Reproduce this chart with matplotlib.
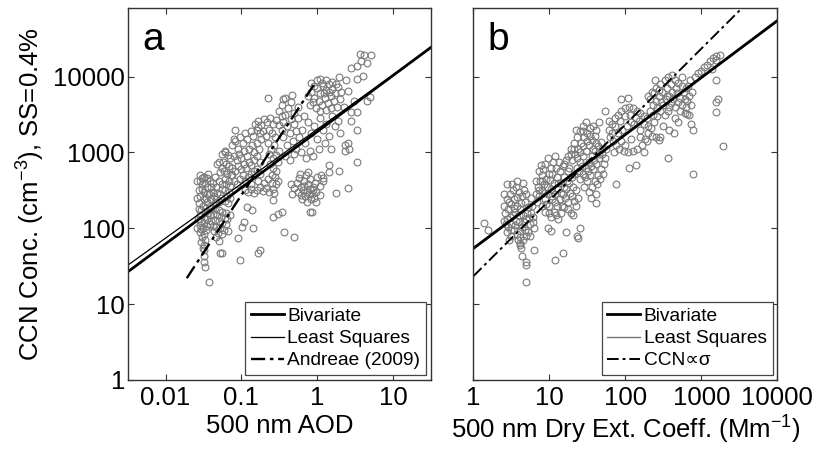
import numpy as np
import matplotlib
matplotlib.use("Agg")
import matplotlib.pyplot as plt
from matplotlib.ticker import NullLocator, FixedLocator, FixedFormatter
from matplotlib.lines import Line2D

plt.rcParams['font.family'] = ['Liberation Sans', 'DejaVu Sans']
plt.rcParams['mathtext.fontset'] = 'custom'
plt.rcParams['mathtext.rm'] = 'Liberation Sans'
plt.rcParams['mathtext.default'] = 'regular'

# ---------------- data (log10 of values) ----------------
# Panel a: log10(AOD), log10(CCN)
a_column = [(-1.55,2.62),(-1.52,2.58),(-1.48,2.60),(-1.45,2.55),(-1.56,2.50),(-1.50,2.48),(-1.46,2.45),
            (-1.54,2.42),(-1.49,2.38),(-1.45,2.35),(-1.56,2.33),(-1.51,2.30),(-1.47,2.27),(-1.53,2.24),
            (-1.48,2.21),(-1.55,2.18),(-1.50,2.15),(-1.46,2.12),(-1.53,2.10),(-1.49,2.07),(-1.55,2.04),
            (-1.51,2.01),(-1.47,1.98),(-1.54,1.95),(-1.50,1.92),(-1.52,1.88),(-1.48,1.85),(-1.53,1.82),
            (-1.50,1.78),(-1.51,1.74),(-1.49,1.71),(-1.47,2.40),(-1.52,2.52),(-1.44,2.20),(-1.56,2.26),
            (-1.46,2.03),(-1.53,1.99),(-1.57,2.12),(-1.50,1.64),(-1.49,1.56),(-1.48,1.49),(-1.43,1.29),
            (-1.58,2.40),(-1.52,2.66)]
a_blob = [(-1.40,2.25),(-1.35,2.27),(-1.30,2.24),(-1.25,2.22),(-1.20,2.20),(-1.42,2.18),(-1.37,2.19),
          (-1.32,2.17),(-1.27,2.15),(-1.22,2.14),(-1.40,2.10),(-1.35,2.11),(-1.30,2.09),(-1.25,2.07),
          (-1.20,2.05),(-1.38,2.03),(-1.33,2.02),(-1.28,2.00),(-1.23,1.98),(-1.36,1.96),(-1.31,1.94),
          (-1.26,1.93),(-1.42,2.05),(-1.19,2.12),(-1.34,1.89)]
a_band = [(-1.58,2.62),(-1.55,2.70),(-1.50,2.68),(-1.45,2.66),(-1.42,2.62),(-1.40,2.55),(-1.38,2.48),
          (-1.36,2.42),(-1.33,2.38),(-1.30,2.35),(-1.28,2.45),(-1.25,2.52),(-1.43,2.45),(-1.40,2.38),
          (-1.35,2.33),(-1.27,2.40),(-1.22,2.36),(-1.19,2.42),(-1.17,2.48),(-1.44,2.72),(-1.38,2.60),
          (-1.33,2.55),(-1.30,2.62),(-1.26,2.58),(-1.22,2.50),(-1.35,2.68),(-1.42,2.30),(-1.18,2.33),
          (-1.15,2.40),(-1.32,2.47)]
a_tallcol = [(-1.25,2.98),(-1.22,3.02),(-1.18,2.96),(-1.15,2.92),(-1.24,2.88),(-1.20,2.85),(-1.16,2.82),
             (-1.23,2.76),(-1.19,2.72),(-1.14,2.70),(-1.22,2.65),(-1.17,2.62),(-1.21,2.58),(-1.15,2.56),
             (-1.26,2.80)]
a_mid = [(-1.12,3.10),(-1.08,3.15),(-1.05,3.05),(-1.02,3.20),(-0.98,3.12),(-0.95,3.25),(-0.92,3.18),
         (-0.88,3.28),(-0.85,3.22),(-0.80,3.30),(-0.76,3.25),(-0.74,3.18),(-1.10,2.95),(-1.06,2.90),
         (-1.03,2.98),(-1.00,2.92),(-0.96,3.02),(-0.93,2.95),(-0.90,3.05),(-0.86,3.10),(-0.83,3.00),
         (-0.80,3.12),(-0.77,3.05),(-1.12,2.80),(-1.08,2.75),(-1.04,2.82),(-1.00,2.78),(-0.97,2.85),
         (-0.94,2.80),(-0.90,2.88),(-0.87,2.83),(-0.84,2.90),(-0.80,2.95),(-0.76,2.88),(-1.10,2.62),
         (-1.06,2.58),(-1.02,2.65),(-0.98,2.70),(-0.95,2.62),(-0.91,2.68),(-0.88,2.72),(-0.84,2.75),
         (-0.80,2.78),(-0.75,2.72),(-1.13,2.70)]
a_hband = [(-0.95,2.50),(-0.91,2.48),(-0.87,2.52),(-0.83,2.47),(-0.79,2.50),(-0.75,2.55),(-0.71,2.49),
           (-0.67,2.53),(-0.63,2.48),(-0.59,2.52),(-0.55,2.58),(-0.52,2.62),(-0.70,2.60),(-0.65,2.65),
           (-0.60,2.60),(-0.88,2.58),(-0.78,2.62),(-0.57,2.46)]
a_upper = [(-0.82,3.38),(-0.78,3.42),(-0.74,3.36),(-0.70,3.44),(-0.66,3.40),(-0.62,3.46),(-0.58,3.38),
           (-0.54,3.43),(-0.50,3.36),(-0.47,3.30),(-0.72,3.28),(-0.68,3.22),(-0.64,3.30),(-0.60,3.25),
           (-0.56,3.20),(-0.65,3.12),(-0.61,3.05),(-0.57,3.10),(-0.63,2.98),(-0.59,2.92),(-0.55,2.96),
           (-0.62,2.85),(-0.58,2.80),(-0.54,2.75),(-0.60,2.70),(-0.56,2.68),(-0.52,2.88),(-0.50,3.02)]
a_leftup = [(-0.50,3.55),(-0.46,3.62),(-0.42,3.50),(-0.38,3.58),(-0.34,3.66),(-0.30,3.52),(-0.26,3.60),
            (-0.45,3.40),(-0.40,3.35),(-0.35,3.44),(-0.30,3.38),(-0.25,3.46),(-0.42,3.72),(-0.33,3.76),
            (-0.28,3.28),(-0.47,3.48)]
a_topclus = [(-0.12,3.75),(-0.08,3.80),(-0.04,3.72),(0.00,3.85),(0.04,3.78),(0.08,3.88),(0.12,3.82),
             (0.16,3.90),(0.20,3.84),(0.24,3.78),(0.28,3.86),(0.31,3.80),(-0.10,3.62),(-0.06,3.66),
             (-0.02,3.58),(0.02,3.68),(0.06,3.62),(0.10,3.72),(0.14,3.65),(0.18,3.74),(0.22,3.68),
             (0.26,3.60),(0.30,3.70),(-0.08,3.92),(0.00,3.95),(0.06,3.92),(0.12,3.96),(0.20,3.93),
             (0.25,3.90),(0.03,3.55),(0.12,3.56),(0.18,3.58),(-0.04,3.88),(0.09,3.78),(0.15,3.80)]
a_midright = [(-0.45,3.20),(-0.40,3.10),(-0.36,3.25),(-0.32,3.15),(-0.28,3.05),(-0.24,3.20),(-0.20,3.30),
              (-0.16,3.12),(-0.12,3.40),(-0.08,3.25),(-0.04,3.35),(0.00,3.18),(0.04,3.45),(0.08,3.30),
              (0.12,3.38),(0.16,3.22),(0.20,3.48),(0.24,3.35),(0.28,3.42),(-0.42,2.95),(-0.36,2.90),
              (-0.30,2.98),(-0.22,3.00),(-0.15,2.92),(-0.10,3.02),(-0.05,2.95),(0.02,3.05),(0.10,3.12),
              (0.18,3.05),(-0.18,3.48)]
a_lowright = [(-0.27,2.60),(-0.24,2.66),(-0.21,2.55),(-0.18,2.62),(-0.15,2.70),(-0.12,2.58),(-0.09,2.65),
              (-0.06,2.54),(-0.03,2.60),(0.00,2.68),(0.04,2.56),(0.07,2.62),(-0.25,2.48),(-0.22,2.44),
              (-0.19,2.50),(-0.16,2.42),(-0.13,2.48),(-0.10,2.52),(-0.07,2.45),(-0.04,2.40),(-0.01,2.48),
              (0.03,2.44),(-0.20,2.38),(-0.14,2.35),(-0.08,2.38),(-0.02,2.35),(-0.17,2.56),(-0.11,2.45),
              (-0.05,2.50),(-0.23,2.72),(-0.12,2.74),(0.05,2.70),(-0.30,2.53),(-0.35,2.58),(-0.33,2.45)]
a_right = [(0.03,3.97),(0.29,4.00),(0.38,3.95),(0.40,3.81),(0.49,3.68),(0.66,3.68),(0.69,3.73),(0.45,3.53),
           (0.53,3.53),(0.53,3.29),(0.52,2.87),(0.40,3.13),(0.36,3.10),(0.42,3.05),(0.36,3.02),(0.29,2.76),
           (0.40,2.53),(0.25,2.47),(0.16,2.83),(0.16,2.74),(0.07,2.66),(-0.07,2.21),(-0.47,2.21),(-0.10,2.21),
           (0.35,3.60),(0.45,3.42),(0.30,3.25),(0.56,4.30),(0.62,4.28),(0.71,4.28),(0.58,4.21),(0.65,4.18),
           (0.45,4.11),(0.53,4.14),(0.60,4.01),(0.52,3.97)]
a_misc = [(-1.09,3.29),(-1.10,3.18),(-1.32,2.85),(-1.28,2.74),(-0.93,2.28),(-0.86,2.24),(-0.59,2.37),
          (-0.59,2.15),(-0.52,2.19),(-0.96,2.08),(-0.99,2.02),(-1.15,2.17),(-1.18,1.97),(-1.05,1.87),
          (-1.30,1.83),(-1.26,1.67),(-1.02,1.58),(-0.78,1.68),(-0.44,1.95),(-0.31,1.89),(-1.59,2.01),
          (-0.65,3.72),(-0.45,3.71),(-0.78,3.33),(-1.22,3.00),(-1.30,2.88),(-0.85,2.01),(-0.76,1.71),
          (-1.28,1.67)]

# Panel b: log10(extinction, Mm-1), log10(CCN)
b_c1 = [(0.40,2.30),(0.44,2.38),(0.48,2.45),(0.52,2.50),(0.56,2.55),(0.60,2.48),(0.64,2.42),(0.68,2.35),
        (0.72,2.28),(0.76,2.20),(0.42,2.20),(0.46,2.25),(0.50,2.32),(0.54,2.38),(0.58,2.30),(0.62,2.25),
        (0.66,2.18),(0.70,2.12),(0.74,2.05),(0.78,2.15),(0.40,2.10),(0.44,2.12),(0.48,2.15),(0.52,2.18),
        (0.56,2.10),(0.60,2.08),(0.64,2.02),(0.68,1.98),(0.72,1.95),(0.46,2.02),(0.50,2.05),(0.54,1.98),
        (0.58,1.92),(0.62,1.88),(0.66,1.85),(0.55,2.22),(0.60,2.18),(0.50,1.90),(0.70,2.45),(0.65,2.60),
        (0.58,2.62),(0.75,1.90),(0.80,2.00),(0.45,1.95),(0.62,1.80),
        (0.41,2.45),(0.47,2.35),(0.53,2.27),(0.57,2.41),(0.63,2.33),(0.67,2.50),(0.71,2.20),(0.77,2.30),
        (0.43,2.05),(0.49,1.98),(0.55,2.04),(0.61,1.97),(0.67,2.08),(0.73,2.14),(0.79,2.08),(0.51,2.58),
        (0.47,1.85),(0.59,1.84),(0.69,1.90),(0.76,2.40)]
b_c2 = [(0.82,2.45),(0.85,2.55),(0.88,2.62),(0.90,2.70),(0.92,2.78),(0.95,2.85),(0.98,2.92),(0.84,2.35),
        (0.87,2.42),(0.90,2.50),(0.93,2.58),(0.96,2.65),(0.99,2.72),(1.02,2.80),(1.05,2.88),(0.90,2.30),
        (0.94,2.38),(0.98,2.45),(1.02,2.52),(1.06,2.60),(1.10,2.68),(1.14,2.75),(1.18,2.82),(0.95,2.22),
        (1.00,2.30),(1.04,2.38),(1.08,2.45),(1.12,2.52),(1.16,2.60),(1.20,2.68),(1.24,2.75),(1.02,2.15),
        (1.06,2.22),(1.10,2.30),(1.14,2.38),(1.18,2.45),(1.22,2.52),(1.26,2.60),(1.30,2.68),(1.12,2.12),
        (1.16,2.20),(1.20,2.28),(1.25,2.35),(1.30,2.42),(1.35,2.50),(1.38,2.40),(1.28,2.20),(1.35,2.30),
        (0.86,2.75),(1.08,2.95),
        (0.83,2.62),(0.89,2.83),(0.93,2.46),(0.97,2.55),(1.01,2.63),(1.04,2.72),(1.09,2.80),(1.13,2.88),
        (0.91,2.62),(0.96,2.32),(1.03,2.42),(1.07,2.34),(1.11,2.60),(1.15,2.47),(1.19,2.55),(1.23,2.62),
        (1.27,2.47),(1.31,2.55),(1.33,2.36),(1.21,2.40),(1.09,2.18),(1.17,2.30),(0.99,2.20),(1.25,2.25),
        (0.87,2.50)]
b_c3 = [(1.20,2.85),(1.24,2.95),(1.28,3.05),(1.32,3.12),(1.36,3.20),(1.40,3.28),(1.44,3.35),(1.48,3.40),
        (1.26,2.80),(1.30,2.90),(1.34,2.98),(1.38,3.05),(1.42,3.12),(1.46,3.20),(1.50,3.26),(1.54,3.32),
        (1.32,2.72),(1.36,2.80),(1.40,2.88),(1.44,2.95),(1.48,3.02),(1.52,3.10),(1.56,3.16),(1.60,3.22),
        (1.40,2.65),(1.44,2.72),(1.48,2.80),(1.52,2.88),(1.56,2.95),(1.60,3.02),(1.64,3.08),(1.68,3.14),
        (1.46,2.55),(1.50,2.62),(1.54,2.70),(1.58,2.78),(1.62,2.85),(1.66,2.92),(1.70,2.98),(1.74,3.05),
        (1.52,2.48),(1.56,2.55),(1.60,2.62),(1.64,2.70),(1.68,2.78),(1.72,2.85),(1.55,2.40),(1.62,2.45),
        (1.58,3.35),(1.66,3.40),
        (1.22,2.90),(1.29,2.98),(1.33,3.05),(1.37,2.92),(1.41,3.00),(1.45,3.08),(1.49,3.15),(1.53,3.22),
        (1.57,3.05),(1.61,3.12),(1.65,2.98),(1.69,3.05),(1.73,2.92),(1.43,2.82),(1.47,2.68),(1.51,2.75),
        (1.55,2.82),(1.59,2.90),(1.63,2.58),(1.67,2.65),(1.71,2.72),(1.39,2.75),(1.35,3.30),(1.45,3.28),
        (1.62,3.30)]
b_c4 = [(1.78,3.30),(1.82,3.38),(1.86,3.45),(1.90,3.50),(1.95,3.55),(2.00,3.58),(2.05,3.60),(2.10,3.58),
        (2.15,3.55),(2.20,3.52),(1.80,3.20),(1.84,3.15),(1.88,3.10),(1.92,3.05),(1.98,3.02),(2.04,3.00),
        (2.10,3.02),(2.16,3.05),(2.22,3.10),(2.26,3.18),(2.30,3.25),(2.34,3.32),(2.38,3.40),(2.42,3.48),
        (2.46,3.55),(2.50,3.62),(2.54,3.70),(2.28,3.45),(2.32,3.55),(2.36,3.62),(2.40,3.68),(2.44,3.75),
        (2.48,3.80),(2.24,3.38),(2.20,3.30),(1.90,3.25),(1.96,3.30),(2.02,3.35),(2.08,3.40),(2.14,3.45),
        (1.85,3.00),(2.25,3.00),(2.40,3.20),(2.50,3.35),(1.95,3.70),
        (1.79,3.42),(1.83,3.25),(1.87,3.35),(1.93,3.42),(1.99,3.48),(2.06,3.50),(2.12,3.38),(2.18,3.42),
        (2.24,3.48),(2.30,3.35),(2.36,3.50),(2.42,3.58),(2.47,3.66),(2.52,3.50),(2.20,3.20),(2.28,3.15),
        (2.35,3.22),(2.00,3.10),(2.08,3.18),(1.94,3.15)]
b_c5 = [(2.55,3.85),(2.60,3.90),(2.65,3.95),(2.70,3.92),(2.75,3.88),(2.80,3.85),(2.58,3.75),(2.62,3.80),
        (2.68,3.78),(2.72,3.72),(2.78,3.70),(2.84,3.75),(2.88,3.80),(2.60,3.65),(2.66,3.60),(2.72,3.55),
        (2.78,3.52),(2.84,3.50),(2.65,3.45),(2.70,3.40),(2.56,3.55),(2.52,3.95),(2.46,3.90),(2.40,3.85),
        (2.35,3.80),(2.30,3.75),(2.75,4.00),(2.85,3.95),(2.62,4.02),(2.80,3.60),
        (2.58,3.60),(2.63,3.70),(2.69,3.66),(2.74,3.62),(2.81,3.68),(2.86,3.62),(2.33,3.70),(2.38,3.78),
        (2.45,3.82),(2.55,3.75),(2.67,3.85),(2.77,3.80),(2.83,3.88),(2.58,3.30),(2.64,3.25)]
b_top = [(2.92,4.00),(2.96,4.05),(3.00,4.08),(3.04,4.12),(3.08,4.15),(3.12,4.20),(3.16,4.24),(3.20,4.27),
         (3.24,4.29),(3.20,4.22),(3.14,4.10)]
b_out = [(0.14,2.07),(0.20,1.98),(0.44,2.59),(0.61,1.78),(0.63,1.74),(0.70,1.55),(0.69,1.51),(0.69,1.29),
         (1.08,1.58),(1.18,1.68),(0.98,2.00),(1.02,1.97),(1.38,1.87),(1.37,1.90),(1.40,2.01),(1.31,2.17),
         (1.62,2.33),(1.88,2.59),(1.73,3.54),(2.05,2.80),(2.14,2.84),(2.56,2.92),(2.89,2.72),(2.44,3.16),
         (2.46,3.20),(2.89,3.30),(2.86,3.38),(2.81,3.51),(3.29,3.09),(3.19,3.53),(3.20,3.67),(3.22,3.70),
         (3.20,3.96),(2.04,3.72),(2.39,3.95),(2.56,3.99),(0.64,1.64),(0.80,1.72),(1.22,1.95)]

# Fit lines: (coefficient, exponent) for CCN = c * x**p
a_bivariate = (1884.0, 0.740)
a_leastsq = (2018.0, 0.717)
a_andreae = (9080.0, 1.52)
a_andreae_range = (0.019, 0.90)
b_bivariate = (54.1, 0.751)
b_leastsq = (55.6, 0.745)
b_prop = (23.3, 1.0)

a_xlim = (10**-2.5, 10**1.5)
b_xlim = (1, 10000)
ylim = (1, 10**4.9)
a_xticks = [0.01, 0.1, 1, 10]
a_xticklabels = ["0.01", "0.1", "1", "10"]
b_xticks = [1, 10, 100, 1000, 10000]
b_xticklabels = ["1", "10", "100", "1000", "10000"]
yticks = [1, 10, 100, 1000, 10000]
yticklabels = ["1", "10", "100", "1000", "10000"]

# ---------------- figure ----------------
fig = plt.figure(figsize=(8.17, 4.49), dpi=100)
ax_a = fig.add_axes([0.1563, 0.1537, 0.3712, 0.8278])
ax_b = fig.add_axes([0.5793, 0.1537, 0.3721, 0.8278])

FS = 18.5
mk = dict(ls='none', marker='o', ms=4.9, mfc='none', mec='#7a7a7a', mew=0.8)

def pts(*clusters):
    arr = np.array([p for c in clusters for p in c])
    return 10 ** arr[:, 0], 10 ** arr[:, 1]

ax_xa, ax_ya = pts(a_column, a_blob, a_band, a_tallcol, a_mid, a_hband, a_upper, a_leftup,
                   a_topclus, a_midright, a_lowright, a_right, a_misc)
ax_a.plot(ax_xa, ax_ya, **mk)
bx, by = pts(b_c1, b_c2, b_c3, b_c4, b_c5, b_top, b_out)
ax_b.plot(bx, by, **mk)

def powline(ax, params, xr, **kw):
    x = np.logspace(np.log10(xr[0]), np.log10(xr[1]), 50)
    return ax.plot(x, params[0] * x ** params[1], **kw)[0]

dd = (0, (6, 2, 1.5, 2))
powline(ax_a, a_leastsq, a_xlim, color='black', lw=0.9)
powline(ax_a, a_bivariate, a_xlim, color='black', lw=2.0)
powline(ax_a, a_andreae, a_andreae_range, color='black', lw=1.7, ls=dd)

powline(ax_b, b_leastsq, b_xlim, color='#777777', lw=1.0)
powline(ax_b, b_bivariate, b_xlim, color='black', lw=2.0)
powline(ax_b, b_prop, b_xlim, color='black', lw=1.4, ls=dd)

for ax, xl, xt, xtl in [(ax_a, a_xlim, a_xticks, a_xticklabels),
                        (ax_b, b_xlim, b_xticks, b_xticklabels)]:
    ax.set_xscale('log')
    ax.set_yscale('log')
    ax.set_xlim(*xl)
    ax.set_ylim(*ylim)
    ax.xaxis.set_major_locator(FixedLocator(xt))
    ax.xaxis.set_major_formatter(FixedFormatter(xtl))
    ax.yaxis.set_major_locator(FixedLocator(yticks))
    ax.yaxis.set_major_formatter(FixedFormatter(yticklabels))
    ax.xaxis.set_minor_locator(NullLocator())
    ax.yaxis.set_minor_locator(NullLocator())
    ax.tick_params(which='major', direction='in', top=True, right=True, length=4, width=0.8,
                   color='#333333', labelsize=FS, pad=4)
    ax.tick_params(axis='y', pad=2)
    for s in ax.spines.values():
        s.set_color('#333333')
        s.set_linewidth(1.0)

ax_b.tick_params(axis='y', labelleft=False)

ax_a.set_xlabel('500 nm AOD', fontsize=FS, labelpad=3)
ax_b.set_xlabel('500 nm Dry Ext. Coeff. (Mm$^{-1}$)', fontsize=FS, labelpad=3)
ax_a.set_ylabel('CCN Conc. (cm$^{-3}$), SS=0.4%', fontsize=FS, labelpad=4)

ax_a.text(0.047, 0.887, 'a', transform=ax_a.transAxes, fontsize=28, va='baseline', ha='left')
ax_b.text(0.048, 0.887, 'b', transform=ax_b.transAxes, fontsize=28, va='baseline', ha='left')

leg_kw = dict(loc='lower right', fontsize=13.8, frameon=True, fancybox=False, framealpha=1,
              edgecolor='#444444', borderpad=0.3, labelspacing=0.25, handlelength=1.7,
              handletextpad=0.2, borderaxespad=0.25)
ha = [Line2D([], [], color='black', lw=2.0),
      Line2D([], [], color='black', lw=0.9),
      Line2D([], [], color='black', lw=1.7, ls=dd)]
la = ax_a.legend(ha, ['Bivariate', 'Least Squares', 'Andreae (2009)'], **leg_kw)
la.get_frame().set_linewidth(0.9)
hb = [Line2D([], [], color='black', lw=2.0),
      Line2D([], [], color='#777777', lw=1.0),
      Line2D([], [], color='black', lw=1.4, ls=dd)]
lb = ax_b.legend(hb, ['Bivariate', 'Least Squares', 'CCN\u221d\u03c3'], **leg_kw)
lb.get_frame().set_linewidth(0.9)

fig.savefig('out.png', dpi=100)
